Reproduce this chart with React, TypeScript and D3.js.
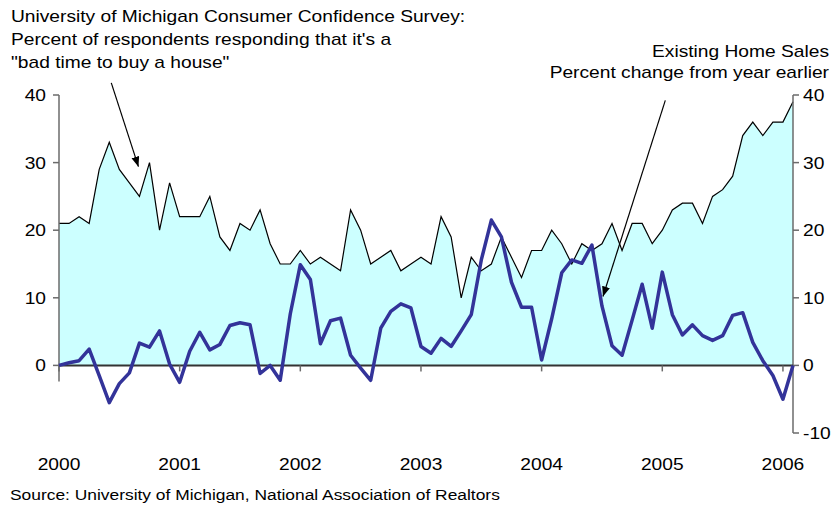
import React from "react";
import * as d3 from "d3";

// Monthly, Jan 2000 – Feb 2006
const michigan: number[] = [
  21, 21, 22, 21, 29, 33, 29, 27, 25, 30, 20, 27,
  22, 22, 22, 25, 19, 17, 21, 20, 23, 18, 15, 15,
  17, 15, 16, 15, 14, 23, 20, 15, 16, 17, 14, 15,
  16, 15, 22, 19, 10, 16, 14, 15, 19, 16, 13, 17,
  17, 20, 18, 15, 18, 17, 18, 21, 17, 21, 21, 18,
  20, 23, 24, 24, 21, 25, 26, 28, 34, 36, 34, 36,
  36, 39,
];

const homeSales: number[] = [
  0, 0.4, 0.7, 2.4, -1.5, -5.5, -2.7, -1.1, 3.3, 2.7, 5.1, 0.2,
  -2.5, 2.1, 4.9, 2.3, 3.1, 5.9, 6.3, 6.0, -1.2, 0.0, -2.2, 7.6,
  14.9, 12.7, 3.2, 6.6, 7.0, 1.5, -0.4, -2.2, 5.5, 8.0, 9.1, 8.5,
  2.8, 1.8, 4.0, 2.8, 5.1, 7.5, 15.6, 21.5, 19.0, 12.3, 8.6, 8.6,
  0.8, 6.9, 13.7, 15.6, 15.1, 17.8, 8.8, 2.9, 1.5, 6.7, 12.0, 5.5,
  13.8, 7.5, 4.5, 6.0, 4.4, 3.7, 4.4, 7.4, 7.8, 3.4, 0.7, -1.5,
  -5.0, 0,
];

const yearLabels: string[] = ["2000", "2001", "2002", "2003", "2004", "2005", "2006"];
const leftTicks: number[] = [0, 10, 20, 30, 40];
const rightTicks: number[] = [-10, 0, 10, 20, 30, 40];

const titleLeft: string[] = [
  "University of Michigan Consumer Confidence Survey:",
  "Percent of respondents responding that it's a",
  "\"bad time to buy a house\"",
];
const titleRight: string[] = ["Existing Home Sales", "Percent change from year earlier"];
const sourceText = "Source: University of Michigan, National Association of Realtors";

// Annotation arrows in data units: [monthIndex, value]
const arrowLeft: [number, number][] = [[5.2, 41.8], [7.9, 29.4]];
const arrowRight: [number, number][] = [[60.3, 39.2], [54.1, 10.2]];

const W = 839;
const H = 508;
const FONT = "Liberation Sans, Arial, Helvetica, sans-serif";
const SX = 1.2;

function T(props: {
  x: number;
  y: number;
  size: number;
  anchor?: "start" | "middle" | "end";
  children: React.ReactNode;
}) {
  return (
    <text
      transform={`translate(${props.x},${props.y}) scale(${SX},1)`}
      fontSize={props.size}
      fontFamily={FONT}
      textAnchor={props.anchor || "start"}
      fill="#000"
    >
      {props.children}
    </text>
  );
}

export default function App() {
  const n = michigan.length;
  const x = d3.scaleLinear().domain([0, n - 1]).range([59, 793]);
  const y = d3.scaleLinear().domain([-10, 40]).range([433, 95]);

  const area = d3
    .area<number>()
    .x((_, i) => x(i))
    .y0(y(0))
    .y1((d) => y(d));
  const line = d3
    .line<number>()
    .x((_, i) => x(i))
    .y((d) => y(d));

  const yearIdx = yearLabels.map((_, i) => i * 12);

  const arrowPath = (a: [number, number][]) =>
    `M${x(a[0][0])},${y(a[0][1])}L${x(a[1][0])},${y(a[1][1])}`;

  const axisColor = "#6b6b6b";

  return (
    <svg
      width={W}
      height={H}
      style={{ position: "absolute", left: 0, top: 0, background: "#fff" }}
    >
      <defs>
        <marker
          id="ah"
          markerUnits="userSpaceOnUse"
          markerWidth={12}
          markerHeight={10}
          refX={10}
          refY={4}
          orient="auto"
        >
          <path d="M0,0 L10,4 L0,8 Z" fill="#000" />
        </marker>
      </defs>

      {/* Michigan area + line */}
      <path d={area(michigan) || ""} fill="#CCFFFF" stroke="none" />
      <path d={line(michigan) || ""} fill="none" stroke="#000" strokeWidth={1.2} />

      {/* left axis */}
      <line x1={x(0)} x2={x(0)} y1={y(40)} y2={y(-2.4)} stroke={axisColor} strokeWidth={1.5} />
      {leftTicks.map((t) => (
        <g key={"lt" + t}>
          <line x1={x(0) - 6} x2={x(0)} y1={y(t)} y2={y(t)} stroke={axisColor} strokeWidth={1.5} />
          <T x={46} y={y(t) + 6} size={16} anchor="end">
            {String(t)}
          </T>
        </g>
      ))}

      {/* right axis */}
      <line x1={x(n - 1)} x2={x(n - 1)} y1={y(40)} y2={y(-10)} stroke={axisColor} strokeWidth={1.5} />
      {rightTicks.map((t) => (
        <g key={"rt" + t}>
          <line x1={x(n - 1)} x2={x(n - 1) + 6} y1={y(t)} y2={y(t)} stroke={axisColor} strokeWidth={1.5} />
          <T x={803} y={y(t) + 6} size={16} anchor="start">
            {String(t)}
          </T>
        </g>
      ))}

      {/* zero line + year ticks */}
      <line x1={x(0)} x2={x(n - 1)} y1={y(0)} y2={y(0)} stroke="#333" strokeWidth={2} />
      {yearIdx.map((m, i) => (
        <g key={"yt" + i}>
          <line x1={x(m)} x2={x(m)} y1={y(0)} y2={y(0) + 6} stroke={axisColor} strokeWidth={1.5} />
          <T x={x(m)} y={470} size={16} anchor="middle">
            {yearLabels[i]}
          </T>
        </g>
      ))}

      {/* Home sales line */}
      <path
        d={line(homeSales) || ""}
        fill="none"
        stroke="#333399"
        strokeWidth={3.5}
        strokeLinejoin="round"
      />

      {/* Arrows */}
      <path d={arrowPath(arrowLeft)} stroke="#000" strokeWidth={1.2} fill="none" markerEnd="url(#ah)" />
      <path d={arrowPath(arrowRight)} stroke="#000" strokeWidth={1.2} fill="none" markerEnd="url(#ah)" />

      {/* Titles */}
      {titleLeft.map((s, i) => (
        <T key={"tl" + i} x={11} y={22 + i * 23} size={16}>
          {s}
        </T>
      ))}
      {titleRight.map((s, i) => (
        <T key={"tr" + i} x={829} y={57 + i * 21} size={16} anchor="end">
          {s}
        </T>
      ))}

      <T x={10} y={500} size={14.5}>
        {sourceText}
      </T>
    </svg>
  );
}
